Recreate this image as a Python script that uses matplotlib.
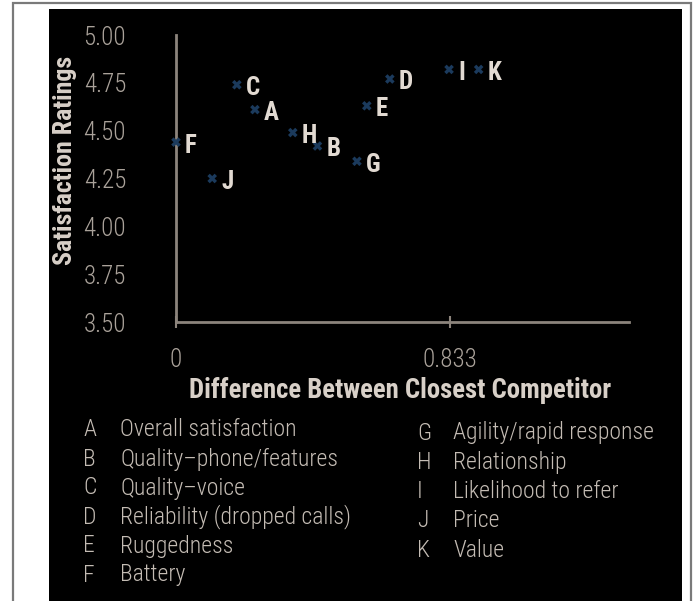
import matplotlib
matplotlib.use("Agg")
import matplotlib.pyplot as plt
from matplotlib.patches import Rectangle
from matplotlib import font_manager as fm

# ---- data ----
point_labels = ["A", "B", "C", "D", "E", "F", "G", "H", "I", "J", "K"]
diff_values = [0.24, 0.43, 0.185, 0.65, 0.58, 0.0, 0.55, 0.355, 0.83, 0.11, 0.92]
ratings = [4.61, 4.42, 4.74, 4.77, 4.63, 4.44, 4.34, 4.49, 4.82, 4.25, 4.82]
descriptions = ["Overall satisfaction", "Quality\u2013phone/features", "Quality\u2013voice",
                "Reliability (dropped calls)", "Ruggedness", "Battery",
                "Agility/rapid response", "Relationship", "Likelihood to refer",
                "Price", "Value"]
x_ticks = [0, 0.833]
x_tick_labels = ["0", "0.833"]
y_ticks = [3.50, 3.75, 4.00, 4.25, 4.50, 4.75, 5.00]
y_tick_labels = ["3.50", "3.75", "4.00", "4.25", "4.50", "4.75", "5.00"]

available = {f.name for f in fm.fontManager.ttflist}
base = "DejaVu Sans"
for cand in ["Roboto Condensed", "Liberation Sans Narrow", "Archivo Narrow",
             "PT Sans Narrow", "Barlow Semi Condensed", "Barlow Condensed"]:
    if cand in available:
        base = cand
        break
FONT = [base, "DejaVu Sans"]
plt.rcParams["font.family"] = FONT

W, H = 696, 601
fig = plt.figure(figsize=(W / 100, H / 100), dpi=100)
fig.patch.set_facecolor("white")

def px(x, y):
    return x / W, 1 - y / H

# outer gray frame and black panel
fig.patches.append(Rectangle(px(13, 620), (691 - 13) / W, (620 - 3) / H,
                             transform=fig.transFigure, facecolor="white",
                             edgecolor="#7a7a7a", linewidth=1.6, zorder=0))
fig.patches.append(Rectangle(px(49, 601), (682 - 49) / W, (601 - 9) / H,
                             transform=fig.transFigure, facecolor="black",
                             edgecolor="none", zorder=1))

ax_l, ax_r, ax_t, ax_b = 176, 629, 35, 322
ax = fig.add_axes([ax_l / W, 1 - ax_b / H, (ax_r - ax_l) / W, (ax_b - ax_t) / H])
ax.set_facecolor("none")
ax.set_zorder(2)

axis_col = "#8c847c"
ax.set_xlim(0, 1.377)
ax.set_ylim(3.5, 5.0)
for s in ["top", "right"]:
    ax.spines[s].set_visible(False)
for s in ["left", "bottom"]:
    ax.spines[s].set_color(axis_col)
    ax.spines[s].set_linewidth(2.0)

ax.scatter(diff_values, ratings, marker="X", s=48, color="#1b3a5c",
           edgecolors="none", zorder=3, clip_on=False)
for lab, xv, yv in zip(point_labels, diff_values, ratings):
    ax.annotate(lab, (xv, yv), xytext=(6.5, -2.5), textcoords="offset points",
                ha="left", va="center", fontsize=18, color="#e2dad2",
                fontweight="semibold", zorder=4)

ax.set_xticks(x_ticks)
ax.set_xticklabels(x_tick_labels)
ax.set_yticks(y_ticks)
ax.set_yticklabels(y_tick_labels)
ax.tick_params(axis="x", direction="inout", length=9, width=1.5, color=axis_col,
               labelsize=18, labelcolor="#aaa29a", pad=14)
ax.tick_params(axis="y", length=0, labelsize=18, labelcolor="#aaa29a", pad=36)
for t in ax.get_xticklabels() + ax.get_yticklabels():
    t.set_fontweight("light")

ax.set_xlabel("Difference Between Closest Competitor", fontsize=19.3,
              fontweight="bold", color="#d8d0c8")
ax.xaxis.set_label_coords((400 - ax_l) / (ax_r - ax_l), (ax_b - 390) / (ax_b - ax_t))
ax.xaxis.label.set_va("center")
ax.set_ylabel("Satisfaction Ratings", fontsize=18.6, fontweight="bold", color="#d8d0c8")
ax.yaxis.set_label_coords((65 - ax_l) / (ax_r - ax_l), (ax_b - 160) / (ax_b - ax_t))
ax.yaxis.label.set_va("center")

# legend-like key
leg_col = "#c4bcb4"
for i, (lab, desc) in enumerate(zip(point_labels, descriptions)):
    if i < 6:
        lx, dx, y = 83, 120, 430 + 29 * i
    else:
        lx, dx, y = 417, 453, 433 + 29.3 * (i - 6)
    fig.text(*px(lx, y), lab, ha="left", va="center", fontsize=17, color=leg_col,
             fontweight="light", zorder=5)
    fig.text(*px(dx, y), desc, ha="left", va="center", fontsize=17, color=leg_col,
             fontweight="light", zorder=5)

fig.savefig("out.png", dpi=100, facecolor="white")
